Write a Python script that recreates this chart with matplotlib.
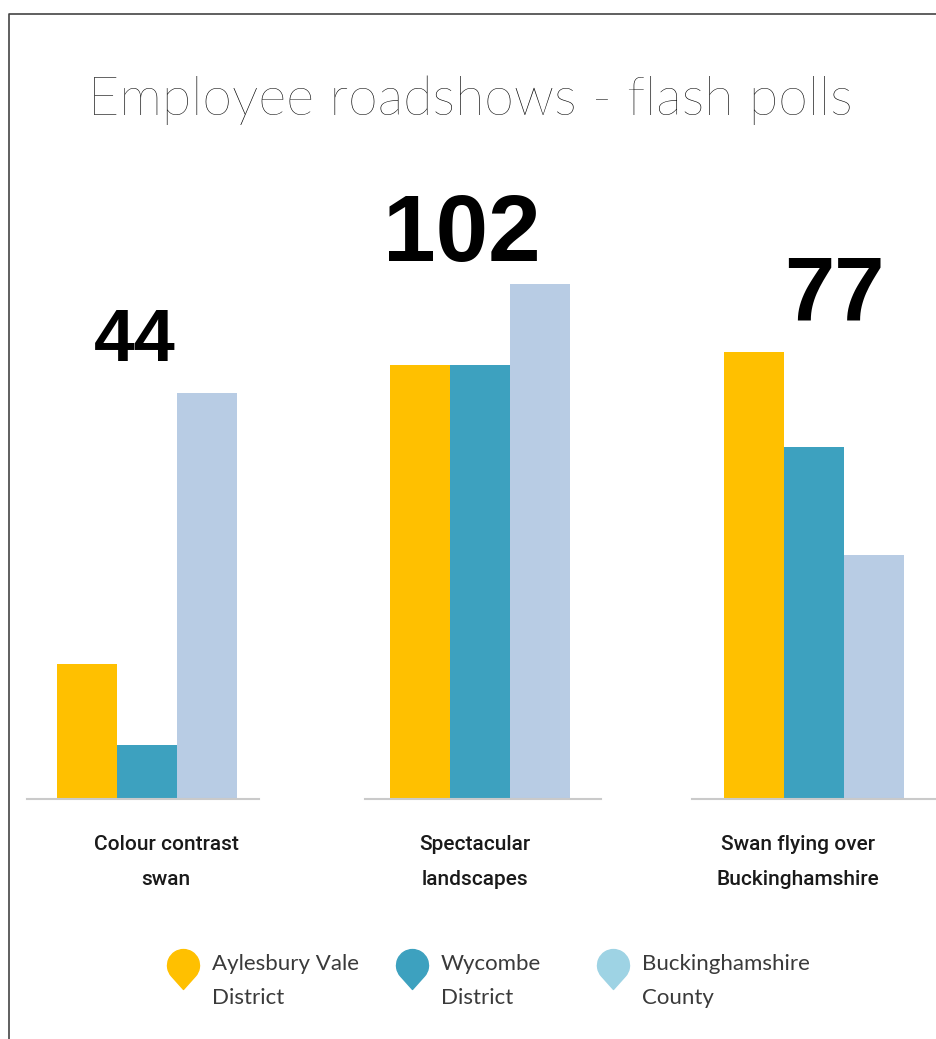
import matplotlib
matplotlib.use("Agg")
import matplotlib.pyplot as plt
from matplotlib.lines import Line2D
from matplotlib.path import Path
import numpy as np

# poll counts per question, one list per district
questions = ["Colour contrast\nswan", "Spectacular\nlandscapes", "Swan flying over\nBuckinghamshire"]
districts = ["Aylesbury Vale\nDistrict", "Wycombe\nDistrict", "Buckinghamshire\nCounty"]
aylesbury = [10, 32, 33]
wycombe = [4, 32, 26]
bucks_county = [30, 38, 18]

bar_colors = ["#FFC000", "#3DA1BF", "#B8CCE4"]
pin_colors = ["#FFC000", "#3DA1BF", "#9ED3E4"]

W, H = 937, 1039
fig = plt.figure(figsize=(W / 100, H / 100), dpi=100)
fig.patch.set_facecolor("white")

thin = ["Lato", "DejaVu Sans"]


def px(x, y):
    return x / W, 1 - y / H


# each question is its own little panel: (line left, line right, first bar left) in px
panels = [(27, 259, 57), (365, 601, 390), (692, 935, 724)]
bar_px = 60
baseline = 799
ymax = 48
unit_px = 13.55

# where the totals and question labels sit
total_x = [135, 462, 834]
total_gap = [23, 16.5, 23]
total_size = [53, 68, 65]
label_x = [166, 475, 798]

for i, (l, r, b0) in enumerate(panels):
    vals = [aylesbury[i], wycombe[i], bucks_county[i]]
    x0, y0 = px(l, baseline)
    ax = fig.add_axes([x0, y0, (r - l) / W, ymax * unit_px / H])
    xs = np.arange(3)
    ax.bar(xs, vals, width=1.0, color=bar_colors, linewidth=0)
    ax.set_xlim(-0.5 - (b0 - l) / bar_px, -0.5 + (r - b0) / bar_px)
    ax.set_ylim(0, ymax)
    for s in ["top", "left", "right"]:
        ax.spines[s].set_visible(False)
    ax.spines["bottom"].set_color("#CACACA")
    ax.spines["bottom"].set_linewidth(1.5)
    ax.set_xticks([])
    ax.set_yticks([])
    ax.patch.set_alpha(0)

    tx = (total_x[i] - b0) / bar_px - 0.5
    ax.annotate(str(sum(vals)), xy=(tx, max(vals)), xytext=(0, total_gap[i]),
                textcoords="offset points", ha="center", va="baseline",
                fontsize=total_size[i], fontweight="heavy",
                family=["Liberation Sans", "DejaVu Sans"], color="black",
                annotation_clip=False)

    fig.text(label_x[i] / W, 1 - 862 / H, questions[i], ha="center", va="center",
             fontsize=15, fontweight="medium", family=["Roboto", "DejaVu Sans"],
             color="#1A1A1A", linespacing=2.1)

fig.text(88 / W, 1 - 115 / H, "Employee roadshows - flash polls", ha="left",
         va="baseline", fontsize=38.8, fontweight="light", family=thin, color="black")

# teardrop pin used as legend marker; anchor sits below the head so the
# pin rides a little above the label's centre
arc = Path.arc(-41.8, 221.8)
head = arc.vertices + [0, 1.0]
pin = Path(np.vstack([head, [[0, -0.5], [0, 0]]]),
           list(arc.codes) + [Path.LINETO, Path.CLOSEPOLY])

legend_pos = [165, 394, 595]
for name, color, x in zip(districts, pin_colors, legend_pos):
    h = Line2D([], [], marker=pin, color=color, linestyle="none", markersize=46)
    leg = fig.legend([h], [name], loc="center left", bbox_to_anchor=(x / W, 1 - 981 / H),
                     frameon=False, handlelength=1.6, handletextpad=0.5, borderpad=0,
                     borderaxespad=0,
                     prop={"family": thin, "size": 16, "weight": "normal"},
                     labelcolor="#3A3A3A")
    for t in leg.get_texts():
        t.set_linespacing(1.9)

# frame lines along the top and left edge
fig.add_artist(Line2D([9.5 / W, 9.5 / W, 1], [0, 1 - 13.5 / H, 1 - 13.5 / H],
                      transform=fig.transFigure, color="#444444", linewidth=1.2))

fig.savefig("out.png", dpi=100)
